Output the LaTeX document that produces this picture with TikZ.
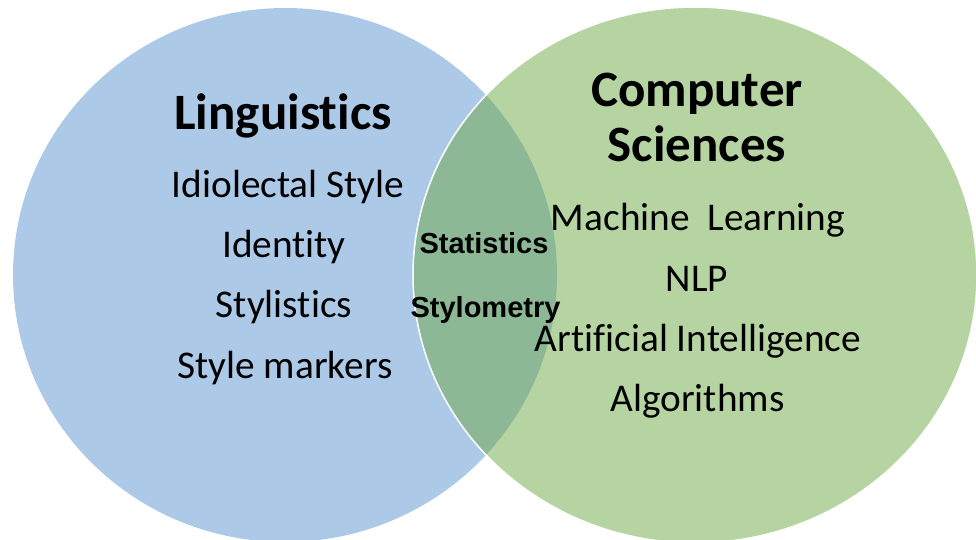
\documentclass[tikz,border=0pt]{standalone}
\usepackage{fontspec}
\setmainfont{Carlito}[Ligatures=NoCommon,RawFeature={-liga;-clig;-dlig}]
\newfontfamily\arialfont{Liberation Sans}
\definecolor{lingblue}{RGB}{172,201,232}
\definecolor{csgreen}{RGB}{109,169,69}
\begin{document}
\begin{tikzpicture}[x=1pt,y=-1pt,
  titletext/.style={anchor=base,inner sep=0pt,font=\fontsize{51}{54}\selectfont\bfseries},
  itemtext/.style={anchor=base,inner sep=0pt,font=\fontsize{39.3}{47}\selectfont},
  sharedtext/.style={anchor=base,inner sep=0pt,font=\arialfont\fontsize{29}{34}\selectfont\bfseries}]
\useasboundingbox (0,0) rectangle (976,539);
\clip (0,0) rectangle (976,539);
\fill[lingblue] (285,275) ellipse [x radius=272, y radius=267];
\draw[white, line width=1.5pt, fill=csgreen, fill opacity=0.5] (695,275) ellipse [x radius=282, y radius=268];

\node[titletext] (ling) at (283,129) {Linguistics};
\node[itemtext] (l1) at (288,197) {Idiolectal Style};
\node[itemtext] (l2) at (284,257) {Identity};
\node[itemtext] (l3) at (284,317) {Stylistics};
\node[itemtext] (l4) at (285,378) {Style markers};

\node[titletext] (cs1) at (697,106) {Computer};
\node[titletext] (cs2) at (697,161) {Sciences};
\node[itemtext] (c1) at (698,230) {Machine\ \ Learning};
\node[itemtext] (c2) at (697,291) {NLP};
\node[itemtext] (c3) at (698,351) {Artificial Intelligence};
\node[itemtext] (c4) at (697.5,411) {Algorithms};

\node[sharedtext] (s1) at (484,253) {Statistics};
\node[sharedtext] (s2) at (485.5,317) {Stylometry};
\end{tikzpicture}
\end{document}
